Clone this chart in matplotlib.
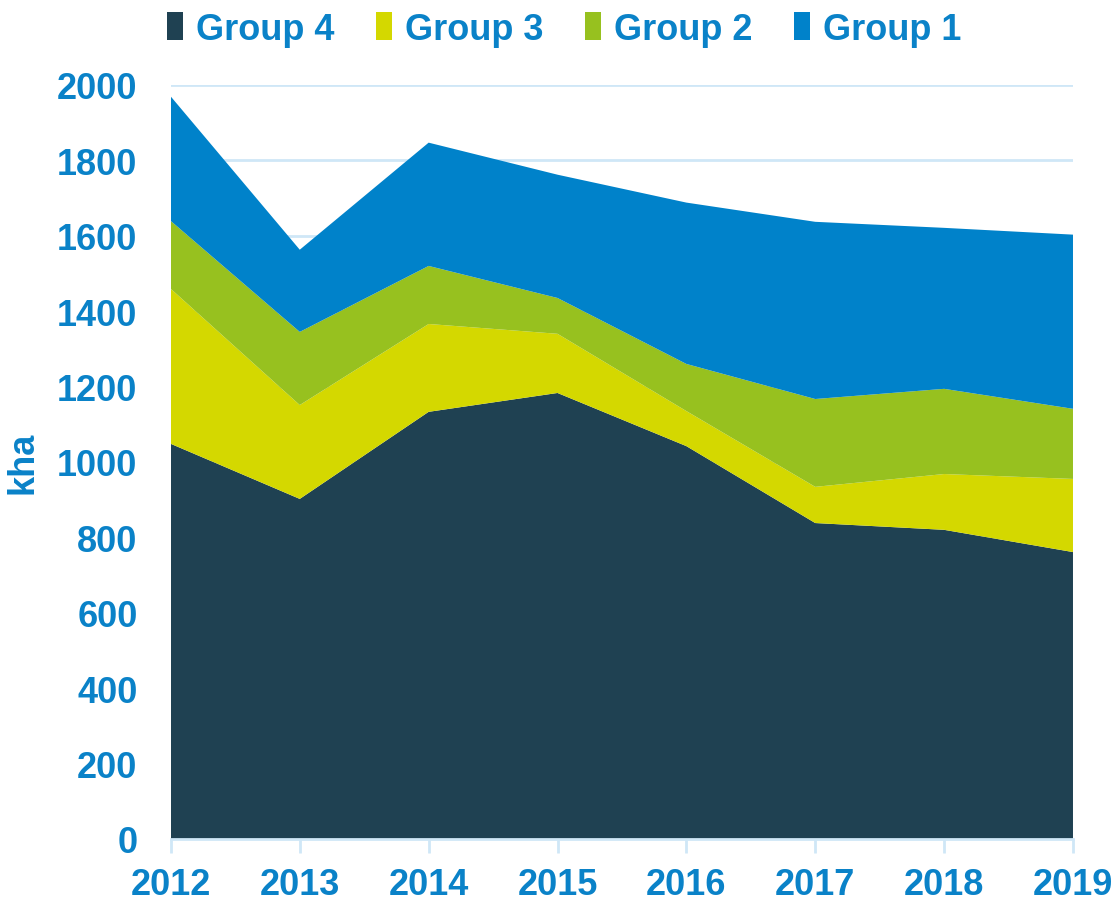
import matplotlib.pyplot as plt

years = [2012, 2013, 2014, 2015, 2016, 2017, 2018, 2019]
group4 = [1048, 902, 1133, 1183, 1042, 838, 820, 761]
group3 = [411, 249, 233, 157, 93, 96, 148, 194]
group2 = [180, 194, 154, 95, 125, 233, 226, 186]
group1 = [330, 218, 327, 327, 428, 470, 427, 462]

labels = ["Group 4", "Group 3", "Group 2", "Group 1"]
colors = ["#1F4152", "#D4D800", "#97C11F", "#0082CA"]
TXT = "#0A82C8"

plt.rcParams['font.family'] = ['Liberation Sans', 'DejaVu Sans']

fig = plt.figure(figsize=(11.17, 9.03), dpi=100)
ax = fig.add_axes([0.153, 0.0698, 0.8076, 0.835])

ax.stackplot(years, group4, group3, group2, group1, colors=colors,
             labels=labels, zorder=2)

ax.set_xlim(2012, 2019)
ax.set_ylim(0, 2000)
ax.set_yticks(range(0, 2001, 200))
ax.set_xticks(years)
ax.grid(True, axis="y", color="#CFE7F7", linewidth=2, zorder=0)
ax.set_axisbelow(True)

for s in ["top", "right", "left"]:
    ax.spines[s].set_visible(False)
ax.spines["bottom"].set_color("#CFE7F7")
ax.spines["bottom"].set_linewidth(2)

ax.tick_params(axis="x", colors="#CFE7F7", length=10, width=2, pad=10,
               labelcolor=TXT, labelsize=26)
ax.tick_params(axis="y", length=0, pad=24, labelcolor=TXT, labelsize=26)
for lab in ax.get_xticklabels() + ax.get_yticklabels():
    lab.set_fontweight("bold")

ax.set_ylabel("kha", color=TXT, fontsize=26, fontweight="bold", labelpad=12)

leg = fig.legend(loc="upper center", bbox_to_anchor=(0.505, 1.022), ncol=4,
                 frameon=False, fontsize=26, handlelength=0.45, handleheight=0.8,
                 handletextpad=0.35, columnspacing=1.15)
for t in leg.get_texts():
    t.set_color(TXT)
    t.set_fontweight("bold")

fig.savefig("out.png", dpi=100)
